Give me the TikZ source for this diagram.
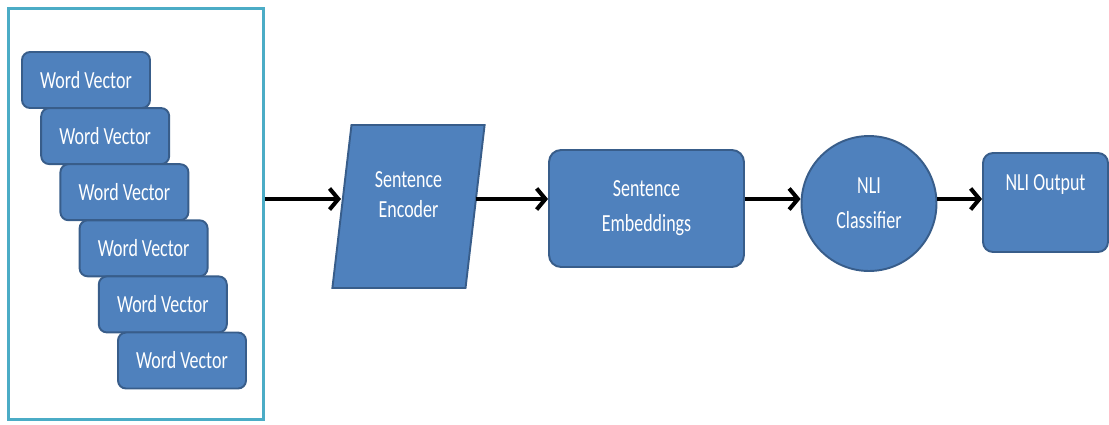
\documentclass[tikz,border=0pt]{standalone}
\usepackage{fontspec}
\newfontfamily\boxfont{Carlito}[FakeStretch=0.73]
\usetikzlibrary{arrows.meta, positioning, shapes.geometric}
\definecolor{BoxBlue}{HTML}{4F81BD}
\definecolor{BoxEdge}{HTML}{385D8A}
\definecolor{FrameTeal}{HTML}{4BACC6}

\begin{document}
\begin{tikzpicture}[x=0.02cm, y=-0.02cm,
    block/.style={draw=BoxEdge, line width=1.1pt, fill=BoxBlue, text=white,
        font=\boxfont\fontsize{14}{20}\selectfont, align=center, inner sep=0pt},
    wordbox/.style={block, rounded corners=0.16cm, minimum width=2.56cm, minimum height=1.12cm},
    flow/.style={line width=2.3pt, -{Straight Barb[length=5pt, width=12pt]}}
]

    \useasboundingbox (0,0) rectangle (1109,424);
    \coordinate (row) at (0,199);  % height of the arrows

    % input frame
    \node[draw=FrameTeal, line width=1.7pt, minimum width=5.12cm, minimum height=8.24cm,
        inner sep=0pt] (frame) at (136,214) {};

    % word vectors
    \foreach \i in {0,...,5}
        \node[wordbox] (wv\i) at (86+19.2*\i, 80+56.1*\i) {Word Vector};

    % encoder
    \node[block, trapezium, trapezium left angle=81, trapezium right angle=99,
        trapezium stretches=true, minimum width=3.06cm, minimum height=3.26cm,
        text height=0.92cm, text depth=0.5cm,
        font=\boxfont\fontsize{14}{17}\selectfont] (enc) at (408.5,206.5) {Sentence\\Encoder};

    % embeddings
    \node[block, rounded corners=0.24cm, minimum width=3.9cm, minimum height=2.34cm]
        (emb) at (646.5,208.5) {Sentence\\Embeddings};

    % classifier
    \node[block, circle, minimum size=2.7cm] (cls) at (869,203.5) {NLI\\Classifier};

    % output
    \node[block, rounded corners=0.2cm, minimum width=2.5cm, minimum height=1.98cm,
        text height=0.74cm, text depth=1.24cm] (out) at (1045.5,202.5) {NLI Output};

    % arrows
    \draw[flow] (frame.east |- row) -- (row -| enc.west);
    \draw[flow] (enc.east |- row) -- (row -| emb.west);
    \draw[flow] (emb.east |- row) -- (row -| cls.west);
    \draw[flow] (cls.east |- row) -- (row -| out.west);

\end{tikzpicture}
\end{document}
